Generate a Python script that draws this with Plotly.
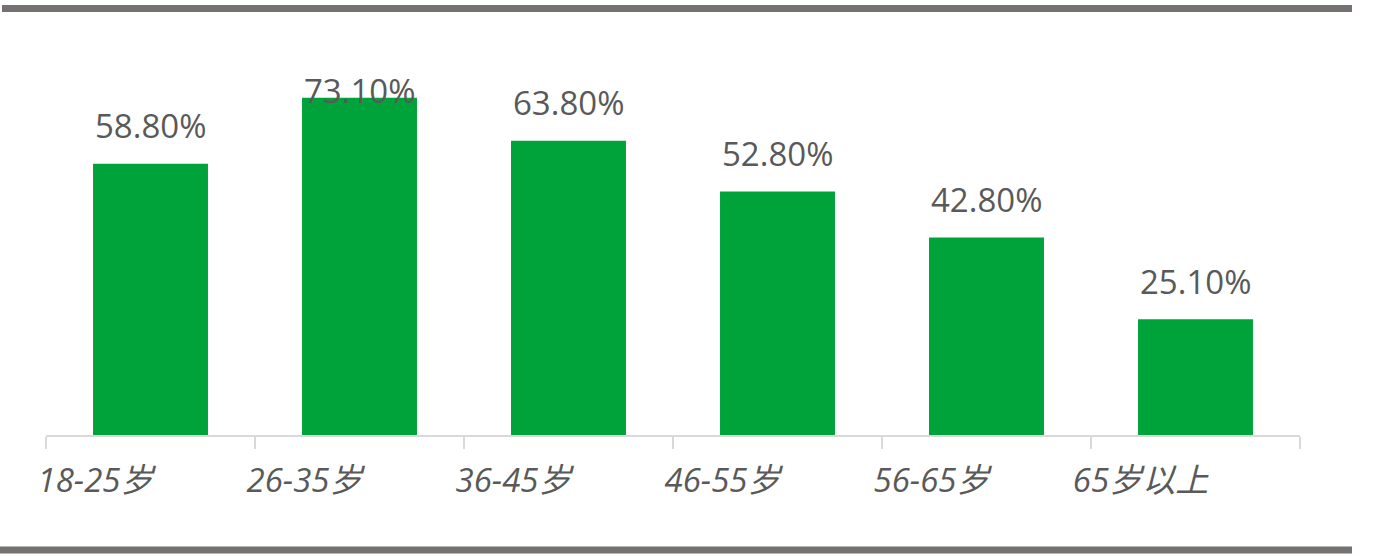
import plotly.graph_objects as go

categories = ["18-25岁", "26-35岁", "36-45岁", "46-55岁", "56-65岁", "65岁以上"]
values = [58.8, 73.1, 63.8, 52.8, 42.8, 25.1]
value_labels = ["58.80%", "73.10%", "63.80%", "52.80%", "42.80%", "25.10%"]

W, H = 1398, 556
L, R, T, B = 46, 98, 66, 121
plot_h = H - T - B
plot_w = W - L - R
ymax = 80
ppu = plot_h / ymax

font_family = "Open Sans, Noto Sans CJK SC, sans-serif"
grey_text = "#595959"

fig = go.Figure()
fig.add_trace(go.Bar(
    x=categories, y=values, marker=dict(color="#00A33A", line=dict(width=0)),
    width=0.55, hoverinfo="skip",
))

label_cap = (H - B - 90) / ppu
for c, v, t in zip(categories, values, value_labels):
    fig.add_annotation(x=c, y=min(v + 38 / ppu, label_cap), text=t, showarrow=False,
                       xanchor="center", yanchor="middle",
                       font=dict(family=font_family, size=33, color=grey_text))

def px_x(px):
    return (px - L) / plot_w

def px_y(py):
    return (H - B - py) / plot_h

bar_col = "#767171"
fig.add_shape(type="line", xref="paper", yref="paper", x0=px_x(2), x1=px_x(1352),
              y0=px_y(8.5), y1=px_y(8.5), line=dict(color=bar_col, width=7))
fig.add_shape(type="line", xref="paper", yref="paper", x0=px_x(0), x1=px_x(1352),
              y0=px_y(550), y1=px_y(550), line=dict(color=bar_col, width=7))

fig.update_layout(
    width=W, height=H, margin=dict(l=L, r=R, t=T, b=B, autoexpand=False),
    paper_bgcolor="white", plot_bgcolor="white", showlegend=False,
    bargap=0.45, hovermode=False,
    xaxis=dict(
        type="category", showline=True, linecolor="#D9D9D9", linewidth=2,
        ticks="outside", tickson="boundaries", ticklen=12, tickwidth=2, tickcolor="#D9D9D9",
        showgrid=False, ticklabelshift=-55, ticklabelstandoff=15,
        tickfont=dict(family=font_family, size=33, color=grey_text, style="italic"),
    ),
    yaxis=dict(range=[0, ymax], visible=False, showgrid=False, zeroline=False),
)

fig.write_html("out.html", config={"displayModeBar": False},
               post_script="document.body.style.margin='0';")
